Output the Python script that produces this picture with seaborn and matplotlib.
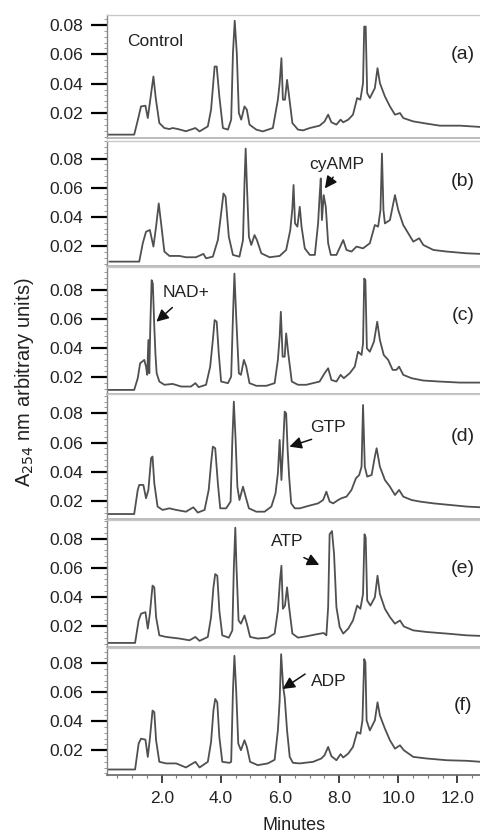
import matplotlib
matplotlib.use("Agg")
import matplotlib.pyplot as plt
from matplotlib.ticker import MultipleLocator, FixedLocator
import seaborn as sns
import pandas as pd

# ---------------- data ----------------
t_a = [0.17, 1.07, 1.19, 1.30, 1.45, 1.53, 1.62, 1.72, 1.80, 1.92, 2.09, 2.26, 2.37, 2.55, 2.82, 3.14, 3.28, 3.56, 3.67, 3.79,
       3.86, 3.95, 4.07, 4.24, 4.35, 4.41, 4.47, 4.54, 4.61, 4.69, 4.80, 4.88, 4.97, 5.20, 5.42, 5.76, 5.93, 5.99, 6.05, 6.10,
       6.17, 6.24, 6.31, 6.42, 6.61, 6.78, 7.01, 7.34, 7.51, 7.63, 7.74, 7.91, 8.05, 8.14, 8.31, 8.47, 8.61, 8.72, 8.81, 8.85,
       8.90, 8.95, 9.04, 9.21, 9.30, 9.38, 9.55, 9.72, 9.89, 10.06, 10.17, 10.51, 10.96, 11.41, 12.09, 12.80]
A_a = [0.0053, 0.0053, 0.0150, 0.0245, 0.0250, 0.0166, 0.0300, 0.0449, 0.0300, 0.0132, 0.0098, 0.0091, 0.0098, 0.0091, 0.0076, 0.0098, 0.0075, 0.0109, 0.0223, 0.0517,
       0.0517, 0.0313, 0.0098, 0.0087, 0.0155, 0.0608, 0.0829, 0.0608, 0.0200, 0.0155, 0.0245, 0.0223, 0.0121, 0.0087, 0.0075, 0.0098, 0.0291, 0.0404, 0.0574, 0.0291,
       0.0291, 0.0426, 0.0313, 0.0132, 0.0087, 0.0082, 0.0098, 0.0114, 0.0143, 0.0189, 0.0137, 0.0121, 0.0155, 0.0137, 0.0155, 0.0189, 0.0302, 0.0291, 0.0404, 0.0789,
       0.0789, 0.0336, 0.0302, 0.0370, 0.0506, 0.0404, 0.0313, 0.0245, 0.0189, 0.0200, 0.0166, 0.0143, 0.0128, 0.0114, 0.0114, 0.0105]

t_b = [0.23, 1.24, 1.36, 1.47, 1.60, 1.72, 1.81, 1.90, 1.98, 2.09, 2.26, 2.60, 2.82, 3.16, 3.41, 3.50, 3.73, 3.90, 4.01, 4.09,
       4.16, 4.27, 4.41, 4.63, 4.75, 4.80, 4.84, 4.88, 4.95, 5.03, 5.14, 5.22, 5.37, 5.65, 5.99, 6.21, 6.35, 6.42, 6.46, 6.51,
       6.59, 6.67, 6.73, 6.84, 7.01, 7.18, 7.29, 7.34, 7.38, 7.42, 7.48, 7.55, 7.63, 7.72, 7.91, 8.14, 8.25, 8.42, 8.59, 8.81,
       9.04, 9.21, 9.32, 9.40, 9.45, 9.50, 9.55, 9.72, 9.89, 10.00, 10.17, 10.34, 10.51, 10.71, 10.85, 11.19, 11.64, 12.32, 12.80]
A_b = [0.0093, 0.0093, 0.0219, 0.0298, 0.0310, 0.0196, 0.0333, 0.0492, 0.0355, 0.0162, 0.0132, 0.0132, 0.0123, 0.0123, 0.0146, 0.0116, 0.0127, 0.0241, 0.0424, 0.0560,
       0.0538, 0.0264, 0.0139, 0.0127, 0.0241, 0.0629, 0.0868, 0.0629, 0.0264, 0.0207, 0.0275, 0.0241, 0.0150, 0.0123, 0.0132, 0.0173, 0.0310, 0.0458, 0.0618, 0.0355,
       0.0333, 0.0469, 0.0333, 0.0184, 0.0139, 0.0139, 0.0355, 0.0538, 0.0663, 0.0378, 0.0549, 0.0469, 0.0219, 0.0139, 0.0139, 0.0241, 0.0173, 0.0162, 0.0196, 0.0184,
       0.0219, 0.0344, 0.0333, 0.0447, 0.0834, 0.0447, 0.0355, 0.0378, 0.0549, 0.0447, 0.0344, 0.0287, 0.0230, 0.0253, 0.0207, 0.0173, 0.0162, 0.0150, 0.0146]

t_c = [0.17, 1.07, 1.19, 1.27, 1.41, 1.47, 1.51, 1.55, 1.58, 1.62, 1.66, 1.70, 1.75, 1.79, 1.83, 1.92, 2.09, 2.37, 2.66, 2.99,
       3.14, 3.25, 3.50, 3.64, 3.73, 3.79, 3.86, 3.93, 4.01, 4.24, 4.35, 4.41, 4.46, 4.52, 4.61, 4.68, 4.78, 4.86, 4.97, 5.20,
       5.54, 5.82, 5.93, 5.99, 6.03, 6.09, 6.16, 6.21, 6.28, 6.40, 6.61, 6.89, 7.34, 7.51, 7.63, 7.74, 7.91, 8.05, 8.16, 8.36,
       8.53, 8.64, 8.76, 8.81, 8.85, 8.89, 8.94, 9.04, 9.18, 9.29, 9.38, 9.51, 9.66, 9.81, 9.94, 10.03, 10.17, 10.45, 10.85, 11.41,
       12.09, 12.80]
A_c = [0.0114, 0.0114, 0.0194, 0.0296, 0.0319, 0.0273, 0.0217, 0.0455, 0.0228, 0.0591, 0.0864, 0.0841, 0.0546, 0.0353, 0.0228, 0.0171, 0.0149, 0.0155, 0.0137, 0.0137,
       0.0160, 0.0133, 0.0149, 0.0273, 0.0455, 0.0591, 0.0580, 0.0364, 0.0171, 0.0160, 0.0205, 0.0614, 0.0909, 0.0614, 0.0228, 0.0217, 0.0319, 0.0273, 0.0160, 0.0142,
       0.0142, 0.0160, 0.0319, 0.0478, 0.0648, 0.0341, 0.0341, 0.0500, 0.0364, 0.0171, 0.0149, 0.0149, 0.0171, 0.0228, 0.0262, 0.0182, 0.0171, 0.0217, 0.0194, 0.0228,
       0.0273, 0.0375, 0.0353, 0.0432, 0.0875, 0.0864, 0.0398, 0.0375, 0.0444, 0.0580, 0.0455, 0.0353, 0.0319, 0.0251, 0.0251, 0.0273, 0.0217, 0.0194, 0.0178, 0.0171,
       0.0164, 0.0164]

t_d = [0.15, 1.07, 1.19, 1.24, 1.38, 1.47, 1.55, 1.64, 1.69, 1.75, 1.86, 2.03, 2.26, 2.49, 2.82, 3.07, 3.22, 3.45, 3.59, 3.67,
       3.73, 3.81, 3.90, 3.98, 4.18, 4.33, 4.39, 4.44, 4.50, 4.56, 4.63, 4.75, 4.84, 4.95, 5.20, 5.48, 5.71, 5.85, 5.93, 5.99,
       6.05, 6.10, 6.16, 6.21, 6.26, 6.31, 6.38, 6.50, 6.67, 6.95, 7.29, 7.46, 7.57, 7.68, 7.80, 7.97, 8.08, 8.25, 8.42, 8.57,
       8.68, 8.76, 8.81, 8.87, 8.95, 9.10, 9.21, 9.27, 9.38, 9.55, 9.72, 9.89, 10.03, 10.17, 10.45, 10.74, 11.19, 11.75, 12.32, 12.80]
A_d = [0.0111, 0.0111, 0.0276, 0.0310, 0.0310, 0.0219, 0.0276, 0.0492, 0.0504, 0.0321, 0.0162, 0.0139, 0.0150, 0.0139, 0.0127, 0.0157, 0.0121, 0.0139, 0.0276, 0.0458,
       0.0572, 0.0561, 0.0321, 0.0150, 0.0150, 0.0196, 0.0618, 0.0880, 0.0618, 0.0298, 0.0207, 0.0298, 0.0230, 0.0150, 0.0127, 0.0127, 0.0162, 0.0253, 0.0390, 0.0618,
       0.0344, 0.0549, 0.0811, 0.0800, 0.0549, 0.0367, 0.0184, 0.0150, 0.0150, 0.0166, 0.0184, 0.0207, 0.0264, 0.0196, 0.0184, 0.0207, 0.0219, 0.0230, 0.0276, 0.0356,
       0.0378, 0.0435, 0.0857, 0.0435, 0.0367, 0.0378, 0.0504, 0.0561, 0.0435, 0.0344, 0.0298, 0.0241, 0.0276, 0.0230, 0.0207, 0.0196, 0.0184, 0.0173, 0.0162, 0.0157]

t_e = [0.15, 1.10, 1.22, 1.30, 1.45, 1.53, 1.60, 1.69, 1.75, 1.81, 1.92, 2.15, 2.60, 2.94, 3.14, 3.28, 3.56, 3.67, 3.75, 3.81,
       3.88, 3.95, 4.05, 4.27, 4.39, 4.44, 4.49, 4.53, 4.60, 4.68, 4.80, 4.88, 4.99, 5.25, 5.59, 5.82, 5.93, 6.00, 6.05, 6.10,
       6.17, 6.24, 6.31, 6.42, 6.61, 6.89, 7.23, 7.48, 7.57, 7.63, 7.68, 7.76, 7.83, 7.91, 8.02, 8.14, 8.31, 8.47, 8.61, 8.72,
       8.81, 8.86, 8.90, 8.95, 9.06, 9.21, 9.30, 9.38, 9.55, 9.72, 9.89, 10.06, 10.19, 10.51, 10.96, 11.64, 12.32, 12.80]
A_e = [0.0085, 0.0085, 0.0239, 0.0285, 0.0296, 0.0183, 0.0285, 0.0478, 0.0466, 0.0262, 0.0137, 0.0126, 0.0115, 0.0103, 0.0126, 0.0099, 0.0126, 0.0262, 0.0466, 0.0557,
       0.0546, 0.0307, 0.0137, 0.0121, 0.0171, 0.0602, 0.0875, 0.0602, 0.0239, 0.0217, 0.0273, 0.0217, 0.0126, 0.0115, 0.0121, 0.0149, 0.0307, 0.0512, 0.0614, 0.0319,
       0.0341, 0.0466, 0.0330, 0.0149, 0.0121, 0.0130, 0.0144, 0.0153, 0.0137, 0.0330, 0.0830, 0.0852, 0.0693, 0.0330, 0.0194, 0.0149, 0.0183, 0.0239, 0.0341, 0.0319,
       0.0421, 0.0830, 0.0807, 0.0376, 0.0341, 0.0398, 0.0546, 0.0421, 0.0319, 0.0262, 0.0217, 0.0239, 0.0198, 0.0171, 0.0160, 0.0149, 0.0137, 0.0133]

t_f = [0.15, 1.10, 1.22, 1.30, 1.45, 1.53, 1.60, 1.69, 1.75, 1.81, 1.92, 2.15, 2.49, 2.82, 3.14, 3.28, 3.56, 3.67, 3.75, 3.81,
       3.88, 3.95, 4.05, 4.29, 4.35, 4.41, 4.46, 4.52, 4.59, 4.68, 4.80, 4.88, 4.99, 5.25, 5.59, 5.82, 5.93, 5.99, 6.04, 6.11,
       6.16, 6.24, 6.33, 6.44, 6.67, 7.12, 7.40, 7.51, 7.63, 7.74, 7.91, 8.05, 8.14, 8.31, 8.47, 8.61, 8.72, 8.79, 8.85, 8.89,
       8.93, 9.04, 9.21, 9.30, 9.38, 9.55, 9.72, 9.89, 10.06, 10.19, 10.51, 10.96, 11.64, 12.32, 12.80]
A_f = [0.0067, 0.0067, 0.0246, 0.0280, 0.0273, 0.0154, 0.0280, 0.0474, 0.0463, 0.0269, 0.0120, 0.0109, 0.0109, 0.0081, 0.0120, 0.0081, 0.0120, 0.0257, 0.0474, 0.0554,
       0.0531, 0.0291, 0.0120, 0.0113, 0.0120, 0.0611, 0.0852, 0.0611, 0.0246, 0.0200, 0.0269, 0.0223, 0.0120, 0.0097, 0.0109, 0.0134, 0.0337, 0.0543, 0.0863, 0.0634,
       0.0566, 0.0337, 0.0154, 0.0113, 0.0109, 0.0120, 0.0143, 0.0166, 0.0223, 0.0159, 0.0131, 0.0173, 0.0150, 0.0177, 0.0223, 0.0326, 0.0314, 0.0406, 0.0829, 0.0806,
       0.0406, 0.0337, 0.0406, 0.0531, 0.0440, 0.0349, 0.0269, 0.0211, 0.0234, 0.0200, 0.0154, 0.0143, 0.0131, 0.0127, 0.0120]

panel_labels = ["(a)", "(b)", "(c)", "(d)", "(e)", "(f)"]
y_ticks = [0.02, 0.04, 0.06, 0.08]
y_tick_labels = ["0.02", "0.04", "0.06", "0.08"]
x_ticks = [2.0, 4.0, 6.0, 8.0, 10.0, 12.0]
x_tick_labels = ["2.0", "4.0", "6.0", "8.0", "10.0", "12.0"]
# annotations: (panel index, text, text pos (t, A), arrow tail (t, A), arrow head (t, A))
annotations = [
    (1, "cyAMP", (7.93, 0.0761), (7.80, 0.0672), (7.52, 0.0595)),
    (2, "NAD+", (2.81, 0.0780), (2.36, 0.0677), (1.82, 0.0580)),
    (3, "GTP", (7.63, 0.0706), (7.07, 0.0622), (6.32, 0.0572)),
    (4, "ATP", (6.24, 0.0778), (6.81, 0.0670), (7.33, 0.0620)),
    (5, "ADP", (7.66, 0.0673), (6.85, 0.0726), (6.09, 0.0623)),
]

series = [(t_a, A_a), (t_b, A_b), (t_c, A_c), (t_d, A_d), (t_e, A_e), (t_f, A_f)]

# ---------------- layout / style ----------------
W, H = 481, 834
panel_px = [(15, 138), (141, 266), (267, 394), (394, 519), (520, 647), (648, 775)]
ylims = [(0.0030, 0.0868), (0.0063, 0.0920), (0.0086, 0.0954),
         (0.0077, 0.0932), (0.0057, 0.0928), (0.0029, 0.0906)]
label_y = [0.675, 0.68, 0.62, 0.66, 0.62, 0.55]
left_px = 107

sns.set_theme(style="ticks")
plt.rcParams['font.family'] = ['Liberation Sans', 'DejaVu Sans']

fig = plt.figure(figsize=(W / 100, H / 100), dpi=100)
axes = []
for i, ((top, bot), (tt, aa)) in enumerate(zip(panel_px, series)):
    ax = fig.add_axes([left_px / W, 1 - bot / H, (W - left_px) / W, (bot - top) / H])
    df = pd.DataFrame({"t": tt, "A": aa})
    sns.lineplot(data=df, x="t", y="A", ax=ax, color="#505050", linewidth=1.3,
                 sort=False, estimator=None)
    ax.set_xlim(0.15, 12.8)
    ax.set_ylim(*ylims[i])
    ax.set_xlabel("")
    ax.set_ylabel("")
    ax.yaxis.set_major_locator(FixedLocator(y_ticks))
    ax.set_yticklabels(y_tick_labels)
    ax.yaxis.set_minor_locator(MultipleLocator(0.004))
    ax.tick_params(axis="y", which="major", direction="out", length=11.5, width=1.6,
                   color="black", labelsize=12.5, pad=6, labelcolor="#222222")
    ax.tick_params(axis="y", which="minor", direction="out", length=2.5, width=0.7,
                   color="#999999")
    ax.spines["left"].set_color("#888888")
    ax.spines["left"].set_linewidth(1.0)
    ax.spines["top"].set_color("#c8c8c8")
    ax.spines["top"].set_linewidth(1.0)
    ax.spines["right"].set_visible(False)
    ax.spines["bottom"].set_color("#b0b0b0")
    ax.spines["bottom"].set_linewidth(1.2)
    ax.set_facecolor("white")
    if i < 5:
        ax.set_xticks([])
        ax.xaxis.set_minor_locator(FixedLocator([]))
    else:
        ax.xaxis.set_major_locator(FixedLocator(x_ticks))
        ax.set_xticklabels(x_tick_labels)
        ax.xaxis.set_minor_locator(MultipleLocator(0.5))
        ax.tick_params(axis="x", which="major", direction="out", length=5.5, width=1.2,
                       color="#222222", labelsize=12.5, pad=6, labelcolor="#222222")
        ax.tick_params(axis="x", which="minor", direction="out", length=2.5, width=0.8,
                       color="#777777")
        ax.spines["bottom"].set_color("#666666")
    ax.text(0.952, label_y[i], panel_labels[i], transform=ax.transAxes,
            ha="center", va="center", fontsize=14, color="#222222")
    axes.append(ax)

axes[0].text(1.78, 0.0685, "Control", ha="center", va="center", fontsize=12.5, color="#222222")

for idx, txt, tpos, tail, head in annotations:
    ax = axes[idx]
    ax.text(tpos[0], tpos[1], txt, ha="center", va="center", fontsize=12.5, color="#222222")
    ax.annotate("", xy=head, xytext=tail,
                arrowprops=dict(arrowstyle="-|>,head_length=0.6,head_width=0.3",
                                color="#111111", lw=1.1, shrinkA=0, shrinkB=0))

fig.text(25 / W, 1 - 382 / H, r"A$_{254}$ nm arbitrary units)", rotation=90,
         ha="center", va="center", fontsize=14.5, color="#222222")
fig.text((left_px + W) / 2 / W, 1 - 826 / H, "Minutes", ha="center", va="center",
         fontsize=13, color="#222222")

fig.savefig("out.png", dpi=100, facecolor="white")
